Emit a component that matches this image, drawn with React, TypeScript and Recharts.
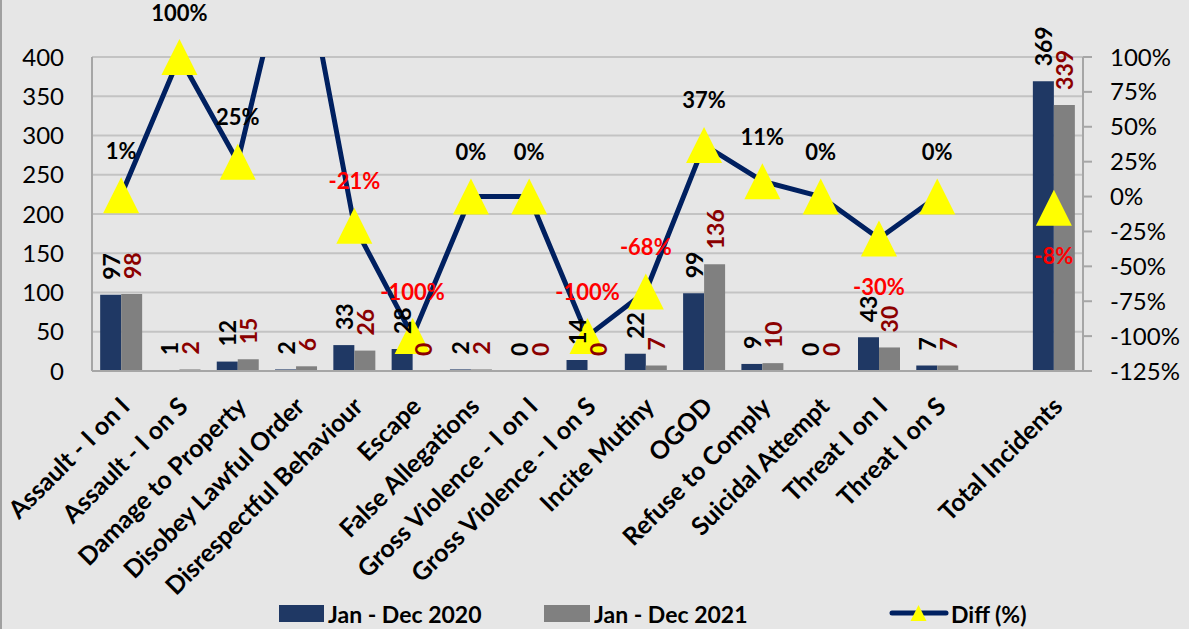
import React from 'react';
import { ComposedChart, Bar, Line, XAxis, YAxis, CartesianGrid, LabelList } from 'recharts';

const categories = [
  'Assault - I on I', 'Assault - I on S', 'Damage to Property', 'Disobey Lawful Order',
  'Disrespectful Behaviour', 'Escape', 'False Allegations', 'Gross Violence - I on I',
  'Gross Violence - I on S', 'Incite Mutiny', 'OGOD', 'Refuse to Comply',
  'Suicidal Attempt', 'Threat I on I', 'Threat I on S', ' ', 'Total Incidents',
];
const incidents2020 = [97, 1, 12, 2, 33, 28, 2, 0, 14, 22, 99, 9, 0, 43, 7, null, 369];
const incidents2021 = [98, 2, 15, 6, 26, 0, 2, 0, 0, 7, 136, 10, 0, 30, 7, null, 339];
const diffPct = [0.01, 1.0, 0.25, 2.0, -0.21, -1.0, 0, 0, -1.0, -0.68, 0.37, 0.11, 0, -0.30, 0, null, -0.08];
const leftTicks = [0, 50, 100, 150, 200, 250, 300, 350, 400];
const rightTicks = [-1.25, -1.0, -0.75, -0.5, -0.25, 0, 0.25, 0.5, 0.75, 1.0];
const seriesNames = ['Jan - Dec 2020', 'Jan - Dec 2021', 'Diff (%)'];
const labelsBelow = ['Threat I on I', 'Total Incidents'];

const NAVY = '#1F3864';
const GRAY = '#808080';
const LINE = '#002060';
const YELLOW = '#FFFF00';
const AXIS = '#A6A6A6';
const FONT = 'Lato, "Open Sans", sans-serif';

const data = categories.map((name, i) => ({
  name,
  y2020: incidents2020[i],
  y2021: incidents2021[i],
  diff: diffPct[i],
  diffMark: diffPct[i] != null && diffPct[i] <= 1 ? diffPct[i] : null,
}));

const pct = (v: number) => `${Math.round(v * 100)}%`;

// keep zero-valued bars in the layout (invisible sliver) so their labels are drawn
const zeroBarSize = (value: any) => (value === 0 ? 0.01 : 0);

const XTick = (props: any) => {
  const { x, y, payload } = props;
  return (
    <g transform={`translate(${x + 3},${y + 30})`}>
      <text
        x={0}
        y={0}
        textAnchor="end"
        dominantBaseline="central"
        transform="rotate(-45)"
        fontFamily={FONT}
        fontWeight={700}
        fontSize={25}
        fill="#000"
      >
        {payload.value}
      </text>
    </g>
  );
};

const makeBarLabel = (color: string) => (props: any) => {
  const { x, y, width, height, value, index } = props;
  if (value == null) return null;
  const cx = x + width / 2;
  const top = Math.min(y, y + (height || 0));
  const ty = top - 15;
  return (
    <text
      key={`bl-${index}`}
      x={cx}
      y={ty}
      transform={`rotate(-90, ${cx}, ${ty})`}
      textAnchor="start"
      dominantBaseline="central"
      fontFamily={FONT}
      fontWeight={700}
      fontSize={23}
      fill={color}
    >
      {value}
    </text>
  );
};

const TriangleDot = (props: any) => {
  const { cx, cy, value, index } = props;
  if (value == null || cy == null || cx == null) return <g key={`td-${index}`} />;
  const h = 18;
  return (
    <polygon
      key={`td-${index}`}
      points={`${cx},${cy - h} ${cx - h},${cy + h} ${cx + h},${cy + h}`}
      fill={YELLOW}
      stroke="none"
    />
  );
};

const DiffLabel = (props: any) => {
  const { x, y, value, index } = props;
  if (value == null || y == null) return null;
  const below = labelsBelow.includes(categories[index]);
  const ty = below ? y + 48 : y - 45;
  return (
    <text
      key={`dl-${index}`}
      x={x}
      y={ty}
      textAnchor="middle"
      dominantBaseline="central"
      fontFamily={FONT}
      fontWeight={700}
      fontSize={22}
      fill={value < 0 ? '#FF0000' : '#000'}
    >
      {pct(value)}
    </text>
  );
};

const Legend = () => (
  <svg width={1189} height={40} style={{ position: 'absolute', left: 0, top: 593 }}>
    <g transform="translate(0,-593)" fontFamily={FONT} fontWeight={700} fontSize={23} fill="#000">
      <rect x={279} y={605} width={45} height={17} fill={NAVY} />
      <text x={328} y={614} dominantBaseline="central">{seriesNames[0]}</text>
      <rect x={544} y={605} width={46} height={17} fill={GRAY} />
      <text x={594} y={614} dominantBaseline="central">{seriesNames[1]}</text>
      <line x1={892} y1={613} x2={946} y2={613} stroke={LINE} strokeWidth={5} strokeLinecap="round" />
      <polygon points="918.5,605 910.5,621 926.5,621" fill={YELLOW} />
      <text x={951} y={614} dominantBaseline="central">{seriesNames[2]}</text>
    </g>
  </svg>
);

export default function App() {
  return (
    <div
      style={{
        position: 'relative',
        width: 1189,
        height: 629,
        background: '#E6E6E6',
        boxShadow: 'inset 2px 0 0 #A0A0A0',
        overflow: 'hidden',
        fontFamily: FONT,
      }}
    >
      <style>{`body{margin:0}`}</style>
      <ComposedChart
        width={1189}
        height={629}
        data={data}
        margin={{ top: 57, right: 0, bottom: 0, left: 0 }}
        barCategoryGap="14%"
        barGap={0}
      >
        <CartesianGrid yAxisId="left" vertical={false} stroke="#C3C3C3" strokeWidth={2} />
        <XAxis
          dataKey="name"
          interval={0}
          height={258}
          tickLine={false}
          tickSize={0}
          tickMargin={0}
          axisLine={{ stroke: AXIS, strokeWidth: 2 }}
          tick={<XTick />}
        />
        <YAxis
          yAxisId="left"
          orientation="left"
          width={92}
          domain={[0, 400]}
          ticks={leftTicks}
          interval={0}
          tickLine={false}
          tickSize={0}
          tickMargin={28}
          axisLine={{ stroke: AXIS, strokeWidth: 2 }}
          tick={{ fontFamily: FONT, fontSize: 24, fill: '#000' }}
        />
        <YAxis
          yAxisId="pct"
          orientation="right"
          width={106}
          type="number"
          domain={[-1.25, 1]}
          allowDataOverflow
          ticks={rightTicks}
          interval={0}
          tickFormatter={pct}
          tickSize={9}
          tickMargin={18}
          tickLine={{ stroke: AXIS, strokeWidth: 2 }}
          axisLine={{ stroke: AXIS, strokeWidth: 2 }}
          tick={{ fontFamily: FONT, fontSize: 24, fill: '#000', textAnchor: 'start' }}
        />
        <YAxis yAxisId="pct2" hide type="number" domain={[-1.25, 1]} />
        <Bar
          yAxisId="left"
          dataKey="y2020"
          name={seriesNames[0]}
          fill={NAVY}
          minPointSize={zeroBarSize}
          isAnimationActive={false}
        >
          <LabelList dataKey="y2020" content={makeBarLabel('#000')} />
        </Bar>
        <Bar
          yAxisId="left"
          dataKey="y2021"
          name={seriesNames[1]}
          fill={GRAY}
          minPointSize={zeroBarSize}
          isAnimationActive={false}
        >
          <LabelList dataKey="y2021" content={makeBarLabel('#8B0000')} />
        </Bar>
        <Line
          yAxisId="pct"
          dataKey="diff"
          name={seriesNames[2]}
          stroke={LINE}
          strokeWidth={5}
          strokeLinejoin="round"
          dot={false}
          activeDot={false}
          connectNulls={false}
          isAnimationActive={false}
        />
        <Line
          yAxisId="pct2"
          dataKey="diffMark"
          stroke="none"
          strokeWidth={0}
          dot={<TriangleDot />}
          activeDot={false}
          legendType="none"
          isAnimationActive={false}
        >
          <LabelList dataKey="diffMark" content={<DiffLabel />} />
        </Line>
      </ComposedChart>
      <Legend />
    </div>
  );
}
